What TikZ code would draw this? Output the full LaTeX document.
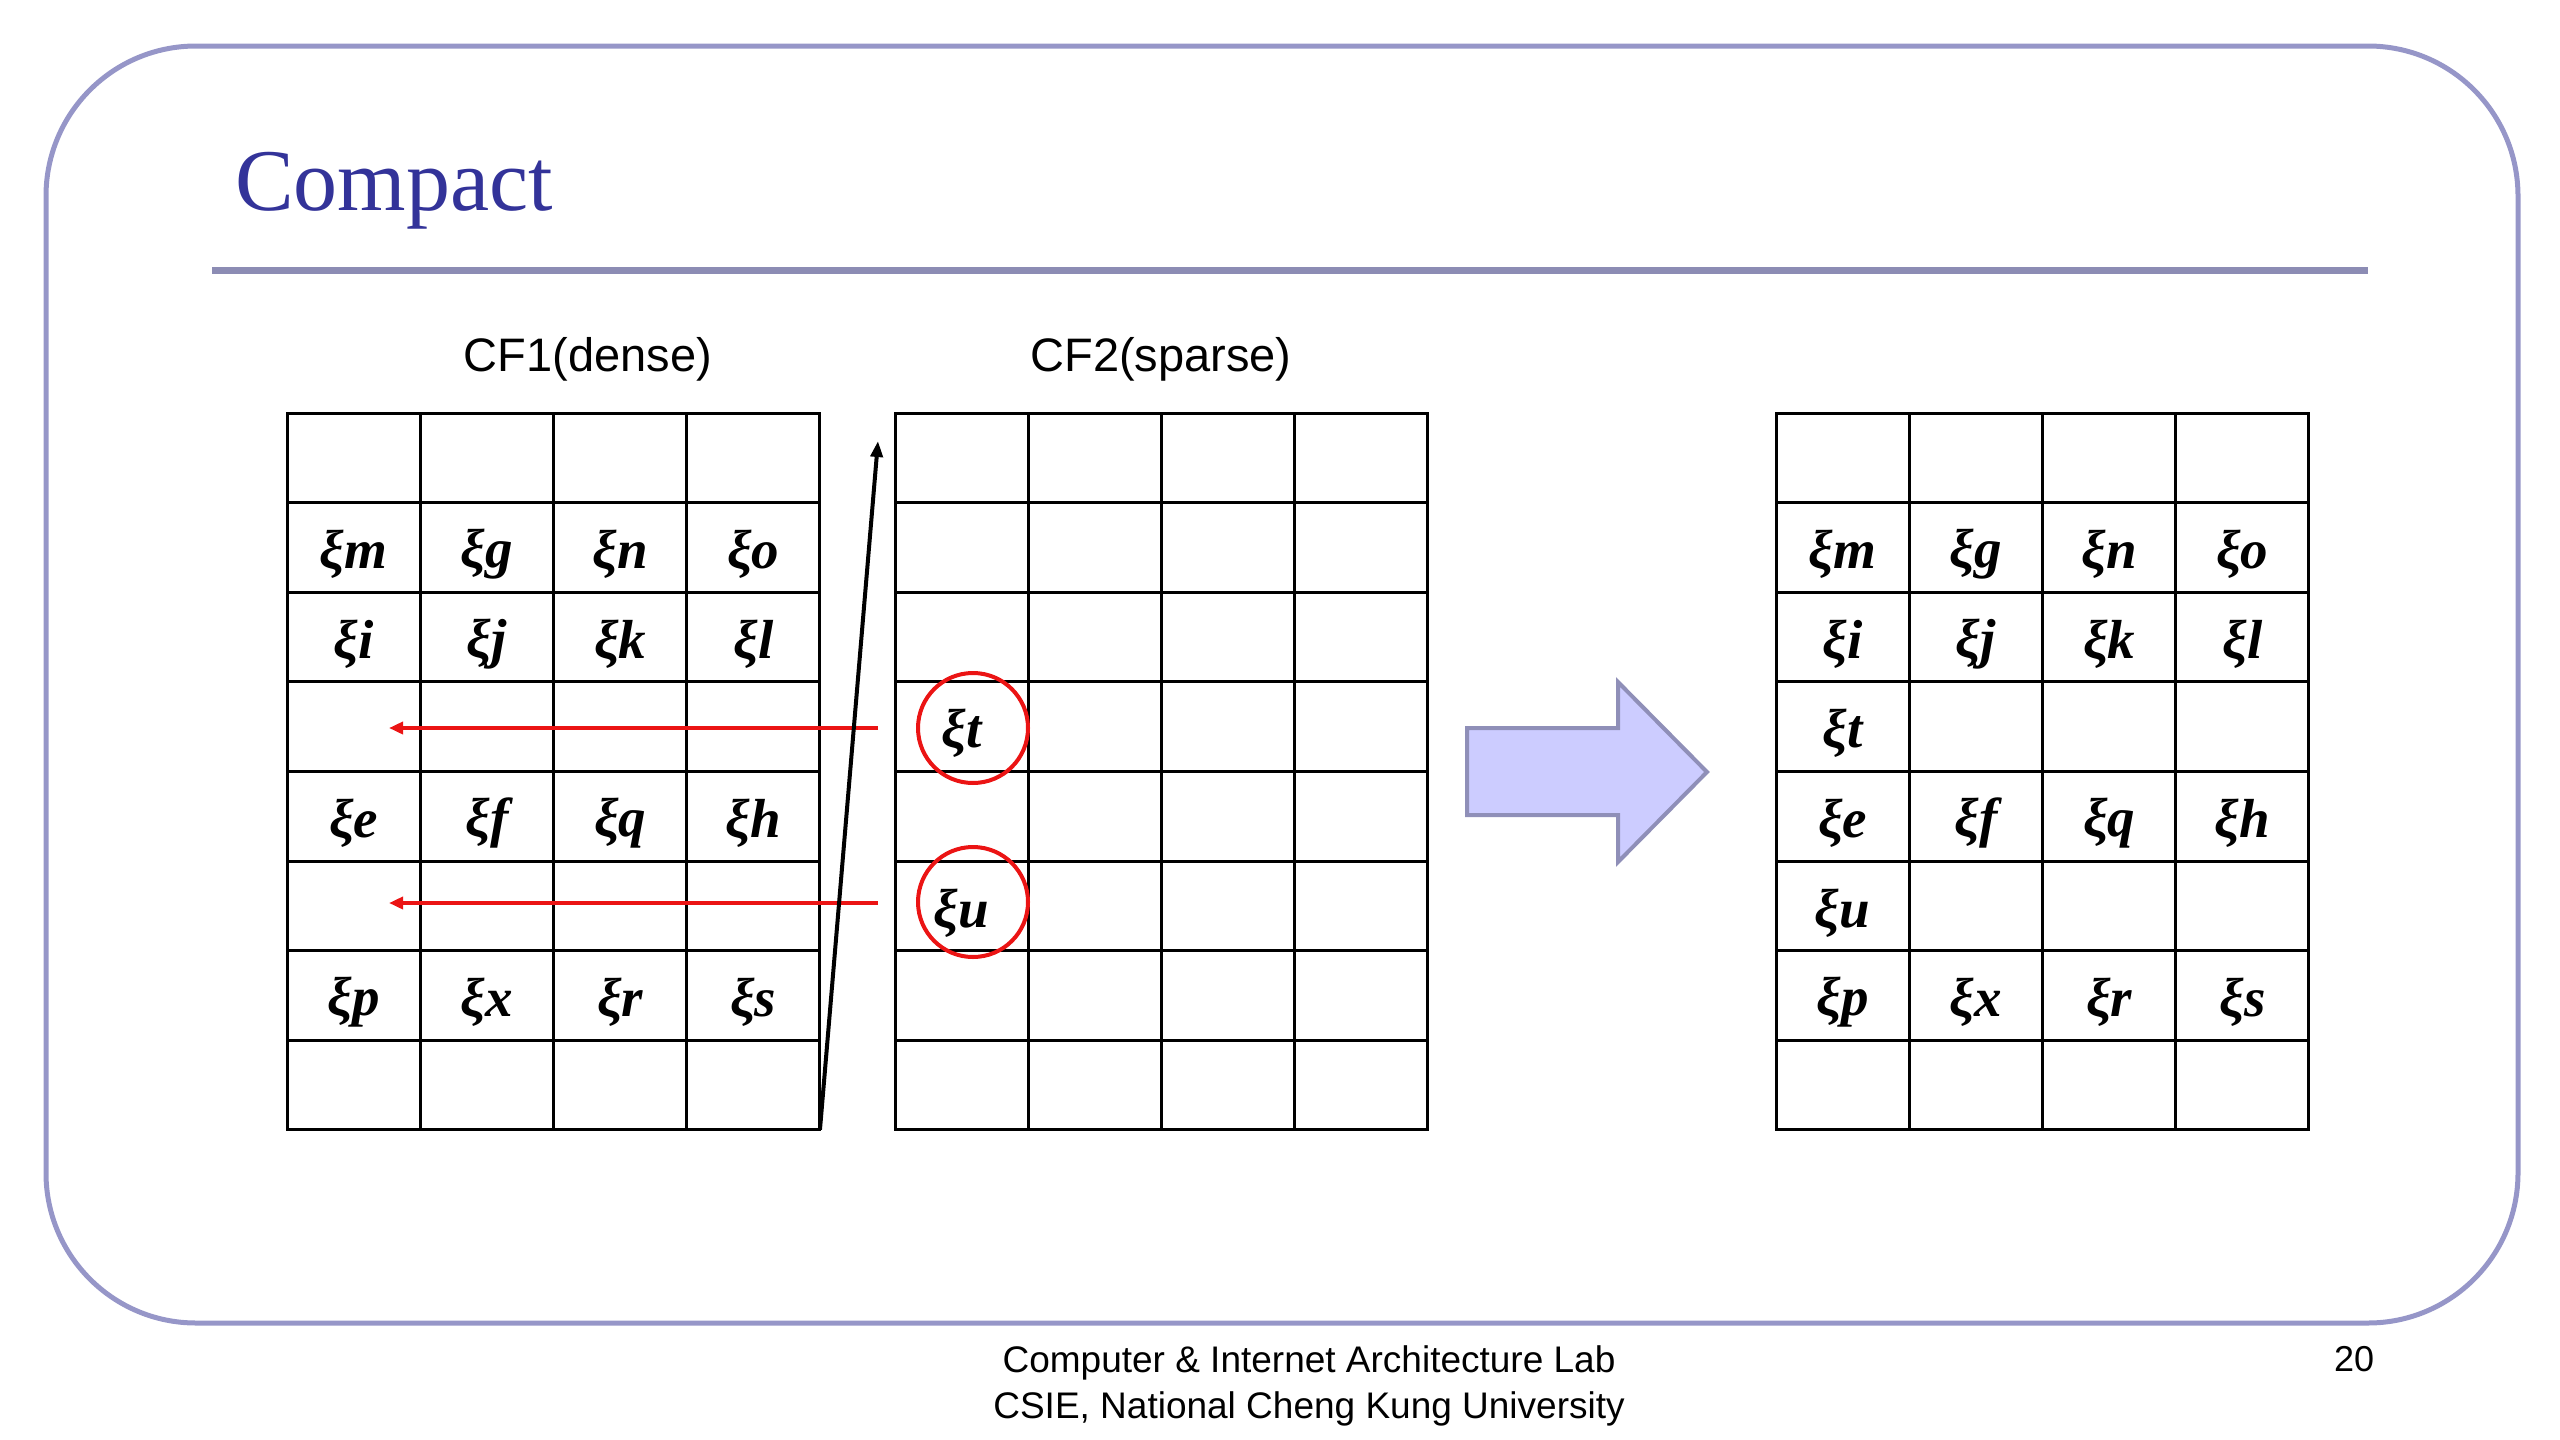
\documentclass[tikz,border=0pt]{standalone}
\usepackage{fontspec}
\setmainfont{Liberation Serif}
\setsansfont{Liberation Sans}
\usepackage{xcolor}
\usetikzlibrary{arrows.meta}

\definecolor{titleblue}{RGB}{51,51,153}
\definecolor{framegray}{RGB}{150,150,200}
\definecolor{rulegray}{RGB}{140,140,180}
\definecolor{blockfill}{RGB}{204,204,255}
\definecolor{blockline}{RGB}{143,143,184}
\definecolor{markred}{RGB}{235,20,20}

\begin{document}
\begin{tikzpicture}[x=0.5pt,y=-0.5pt,
  cell/.style={draw, line width=1.5pt, minimum width=66.6pt, minimum height=44.8pt,
    inner sep=0pt, outer sep=0pt},
  sym/.style={inner sep=0pt, yshift=-3.5pt, font=\fontsize{27.5}{27.5}\selectfont\bfseries\itshape},
  ring/.style={draw=markred, line width=2pt, circle, minimum size=55pt, inner sep=0pt},
  redarrow/.style={draw=markred, line width=2pt, -{Triangle[length=7pt,width=6pt]}},
  label/.style={font=\sffamily\fontsize{23.5}{23.5}\selectfont}]

\useasboundingbox (0,0) rectangle (2560,1440);

% slide frame
\draw[framegray, line width=2.5pt, rounded corners=75pt] (46,46) rectangle (2518,1323);
\node[anchor=base west, text=titleblue, font=\fontsize{44}{44}\selectfont] (title) at (228,210) {Compact};
\draw[rulegray, line width=3.5pt] (212,270) -- (2368,270);

% the three tables
\foreach \c in {0,...,3}
  \foreach \r in {0,...,7} {
    \node[cell] (L\r\c) at ({353.6+133.25*\c},{457.8+89.6*\r}) {};
    \node[cell] (M\r\c) at ({961.6+133.25*\c},{457.8+89.6*\r}) {};
    \node[cell] (R\r\c) at ({1842.6+133.25*\c},{457.8+89.6*\r}) {};
  }

\node[label] (cf1) at (588,359) {CF1(dense)};
\node[label] (cf2) at (1161,359) {CF2(sparse)};

% CF1 entries
\foreach \t/\r/\c in {m/1/0, g/1/1, n/1/2, o/1/3, i/2/0, j/2/1, k/2/2, l/2/3,
    e/4/0, f/4/1, q/4/2, h/4/3, p/6/0, x/6/1, r/6/2, s/6/3}
  \node[sym] (L-\t) at (L\r\c) {ξ\t};

% CF2 entries
\node[sym] (M-t) at (M30) {ξt};
\node[sym] (M-u) at (M50) {ξu};
\node[ring] (ringt) at (973,728) {};
\node[ring] (ringu) at (973,902) {};

% compacted result
\foreach \t/\r/\c in {m/1/0, g/1/1, n/1/2, o/1/3, i/2/0, j/2/1, k/2/2, l/2/3, t/3/0,
    e/4/0, f/4/1, q/4/2, h/4/3, u/5/0, p/6/0, x/6/1, r/6/2, s/6/3}
  \node[sym] (R-\t) at (R\r\c) {ξ\t};

% moves
\coordinate (tfrom) at (878,728);
\coordinate (tto) at (389,728);
\coordinate (ufrom) at (878,903);
\coordinate (uto) at (389,903);
\draw[redarrow] (tfrom) -- (tto);
\draw[redarrow] (ufrom) -- (uto);

\coordinate (scan) at (878,441);
\draw[line width=2pt, -{Triangle[length=8pt,width=6pt]}] (L73.south east) -- (scan);

% block arrow
\draw[fill=blockfill, draw=blockline, line width=2pt, line join=miter]
  (1467,728) -- (1618,728) -- (1618,682) -- (1707,772) -- (1618,862) -- (1618,815) -- (1467,815) -- cycle;

% footer
\node[align=center, font=\sffamily\fontsize{18.5}{23}\selectfont] (foot) at (1309,1386)
  {Computer \& Internet Architecture Lab\\CSIE, National Cheng Kung University};
\node[font=\sffamily\fontsize{18}{18}\selectfont] (page) at (2354,1359) {20};

\end{tikzpicture}
\end{document}
